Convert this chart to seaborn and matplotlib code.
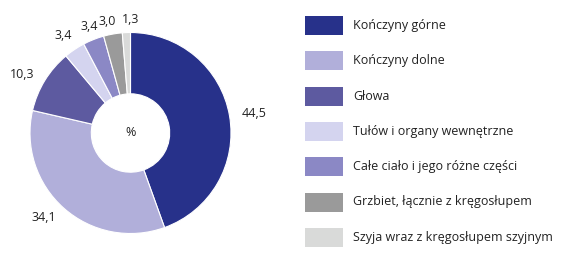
import numpy as np
import matplotlib
matplotlib.use("Agg")
import matplotlib.pyplot as plt
from matplotlib.patches import Rectangle
import seaborn as sns

categories = ["Kończyny górne", "Kończyny dolne", "Głowa", "Tułów i organy wewnętrzne",
              "Całe ciało i jego różne części", "Grzbiet, łącznie z kręgosłupem",
              "Szyja wraz z kręgosłupem szyjnym"]
values = [44.5, 34.1, 10.3, 3.4, 3.4, 3.0, 1.3]
colors = ["#27318a", "#b1afda", "#5d5aa0", "#d4d4ef", "#8b88c5", "#9a9a9a", "#d9dad9"]
center_label = "%"
# small pixel nudges for crowded value labels (layout only)
label_nudge = [(0, 0), (0, 0), (0, 0), (4, 4), (0, 2), (-4, 1), (5, 1)]

sns.set_theme(style="white")
plt.rcParams['font.family'] = ['Open Sans', 'DejaVu Sans']

W, H = 572, 275
fig = plt.figure(figsize=(W / 100, H / 100), dpi=100)

cx, cy, R = 130.5, 133, 100.5
ax = fig.add_axes([(cx - R * 1.1) / W, (H - cy - R * 1.1) / H, 2.2 * R / W, 2.2 * R / H])
ax.set_aspect('equal')
ax.axis('off')

wedges, _ = ax.pie(values, colors=colors, startangle=90, counterclock=False,
                   radius=1.0, wedgeprops=dict(width=0.61, edgecolor='white', linewidth=0.8))
ax.set_xlim(-1.1, 1.1)
ax.set_ylim(-1.1, 1.1)
for w, v, (ndx, ndy) in zip(wedges, values, label_nudge):
    th = np.deg2rad((w.theta1 + w.theta2) / 2)
    c, s = np.cos(th), np.sin(th)
    r = 1.12
    ha = 'left' if c > 0.5 else ('right' if c < -0.5 else 'center')
    ax.annotate(f"{v:.1f}".replace('.', ','), xy=(r * c, r * s),
                xytext=(ndx * 0.72, ndy * 0.72), textcoords='offset points',
                ha=ha, va='center', fontsize=9, color='#222222',
                annotation_clip=False)
ax.text(0, 0, center_label, ha='center', va='center', fontsize=9, color='#222222')

row_y = [25.5, 60.5, 96, 131.5, 166.5, 202, 237.5]
for y, lab, col in zip(row_y, categories, colors):
    fig.add_artist(Rectangle((305 / W, (H - y - 9.5) / H), 38 / W, 19 / H,
                             transform=fig.transFigure, facecolor=col, edgecolor='none'))
    fig.text(353 / W, (H - y) / H, lab, ha='left', va='center', fontsize=9, color='#222222')

fig.savefig("out.png", dpi=100, facecolor='white')
